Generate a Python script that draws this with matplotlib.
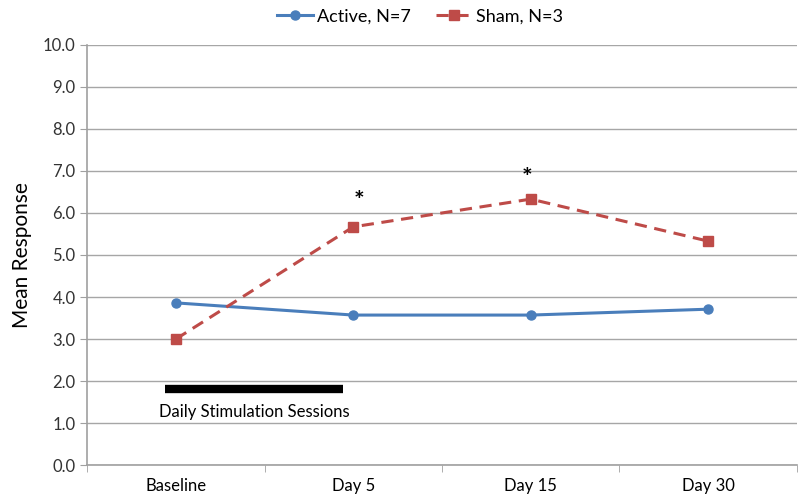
import numpy as np
import matplotlib.pyplot as plt

plt.rcParams['font.family'] = ['Lato', 'DejaVu Sans']

# Data
days = ['Baseline', 'Day 5', 'Day 15', 'Day 30']
active = [3.86, 3.57, 3.57, 3.71]
sham = [3.0, 5.67, 6.33, 5.33]
star_y = [6.28, 6.83]
star_x = [1.03, 1.98]

x = np.arange(len(days))

fig = plt.figure(figsize=(8, 4.99), dpi=100)
ax = fig.add_axes([0.109, 0.068, 0.887, 0.842])

ax.plot(x, active, color='#4a7ebb', lw=2.2, marker='o', ms=6.5, label='Active, N=7', zorder=3)
ax.plot(x, sham, color='#be4b48', lw=2.2, ls=(0, (4, 2.5)), marker='s', ms=7.5, label='Sham, N=3', zorder=3)

# stimulation period bar
ax.plot([-0.06, 0.94], [1.81, 1.81], color='black', lw=6, solid_capstyle='butt')
ax.text(0.44, 1.26, 'Daily Stimulation Sessions', ha='center', va='center', fontsize=12)

for sx, sy in zip(star_x, star_y):
    ax.text(sx, sy, '*', ha='center', va='center', fontsize=18, fontweight='bold')

ax.set_xlim(-0.5, 3.5)
ax.set_ylim(0, 10)
ax.set_xticks(x)
ax.set_xticklabels(days, fontsize=12)
ax.set_xticks(np.arange(-0.5, 4.0, 1.0), minor=True)
ax.tick_params(axis='x', which='major', length=0, pad=9)
ax.tick_params(axis='x', which='minor', length=5, color='#a0a0a0', direction='out')
ax.set_yticks(np.arange(0, 10.5, 1.0))
ax.set_yticklabels(['%.1f' % v for v in np.arange(0, 10.5, 1.0)], fontsize=12, color='#333333')
ax.tick_params(axis='y', length=5, color='#a0a0a0')
ax.yaxis.grid(True, color='#a6a6a6', lw=1)
ax.set_axisbelow(True)
ax.set_ylabel('Mean Response', fontsize=15, labelpad=8)

for s in ['top', 'right']:
    ax.spines[s].set_visible(False)
for s in ['left', 'bottom']:
    ax.spines[s].set_color('#a0a0a0')
    ax.spines[s].set_linewidth(1.2)

ax.legend(loc='upper center', bbox_to_anchor=(0.469, 1.125), ncol=2, frameon=False,
          fontsize=13, handlelength=2.0, columnspacing=1.4, handletextpad=0.2)

fig.savefig('out.png')
